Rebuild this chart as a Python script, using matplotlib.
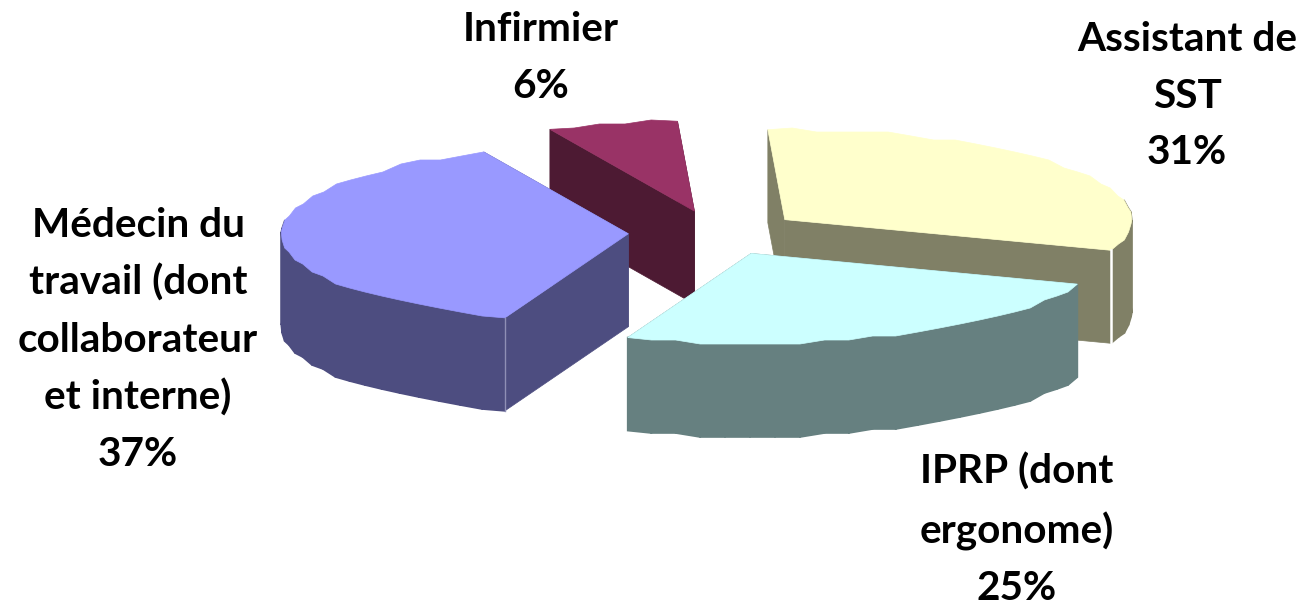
import numpy as np
import matplotlib
matplotlib.use('Agg')
import matplotlib.pyplot as plt

labels = ['Assistant de\nSST', 'IPRP (dont\nergonome)',
          'Médecin du\ntravail (dont\ncollaborateur\net interne)', 'Infirmier']
shares = [31, 25, 37, 6]
top_colors = ['#FFFFCC', '#CCFFFF', '#9999FF', '#993366']
side_colors = ['#808066', '#668080', '#4D4D80', '#4D1A33']

# pie geometry, in pixels of the 1300x603 image
cx, cy = 715, 233
rx, ry = 347, 90
depth = 93
explode = 0.25
start = -2.8
step = 4  # the original rim is a bit stepped, not smooth
arc_step = 4  # degrees between rim points

label_pos = [(1187, 96), (1017, 530), (138, 340), (541, 58)]

fig = plt.figure(figsize=(13, 6.03), dpi=100)
ax = fig.add_axes([0, 0, 1, 1])
ax.set_xlim(0, 1300)
ax.set_ylim(603, 0)
ax.axis('off')

plt.rcParams['font.family'] = ['Lato', 'DejaVu Sans']

spans = np.array(shares) / sum(shares) * 360
ends = start + np.cumsum(spans)
begins = ends - spans


def point(a):
    # a in degrees, clockwise from the top of the ellipse
    r = np.radians(a)
    return rx * np.sin(r), -ry * np.cos(r)


slices = []
for i in range(len(shares)):
    mid = (begins[i] + ends[i]) / 2
    dx, dy = point(mid)
    ox, oy = cx + explode * dx, cy + explode * dy
    n = max(int(spans[i] / arc_step), 2) + 1
    px, py = point(np.linspace(begins[i], ends[i], n))
    px = px + ox
    py = py + oy
    py[1:-1] = np.round(py[1:-1] / step) * step
    slices.append((oy, i, ox, oy, px, py))

# back slices first
for _, i, ox, oy, px, py in sorted(slices, key=lambda s: s[0]):
    # the two radial walls
    ax.fill([ox, px[0], px[0], ox], [oy, py[0], py[0] + depth, oy + depth],
            color=side_colors[i], lw=0.5)
    ax.fill([ox, px[-1], px[-1], ox], [oy, py[-1], py[-1] + depth, oy + depth],
            color=side_colors[i], lw=0.5)
    # the rim, one quad per arc segment, back of the rim is hidden anyway
    for j in range(len(px) - 1):
        if py[j] < oy - 12 and py[j + 1] < oy - 12:
            continue
        ax.fill([px[j], px[j + 1], px[j + 1], px[j]],
                [py[j], py[j + 1], py[j + 1] + depth, py[j] + depth],
                color=side_colors[i], lw=1.2)
    ax.fill(np.r_[ox, px], np.r_[oy, py], color=top_colors[i], lw=0.5)

# light seams on the corners that face the viewer
for _, i, ox, oy, px, py in slices:
    if i == 0:
        ax.plot([px[-1], px[-1]], [py[-1], py[-1] + depth], color='white', lw=1.8)
    if i == 2:
        ax.plot([px[0], px[0]], [py[0], py[0] + depth], color='#8F8FB5', lw=1)

for i in range(len(labels)):
    ax.text(label_pos[i][0], label_pos[i][1], '%s\n%d%%' % (labels[i], shares[i]),
            ha='center', va='center', fontsize=29.2, fontweight='bold',
            color='black', linespacing=1.65, multialignment='center')

fig.savefig('out.png', dpi=100)
